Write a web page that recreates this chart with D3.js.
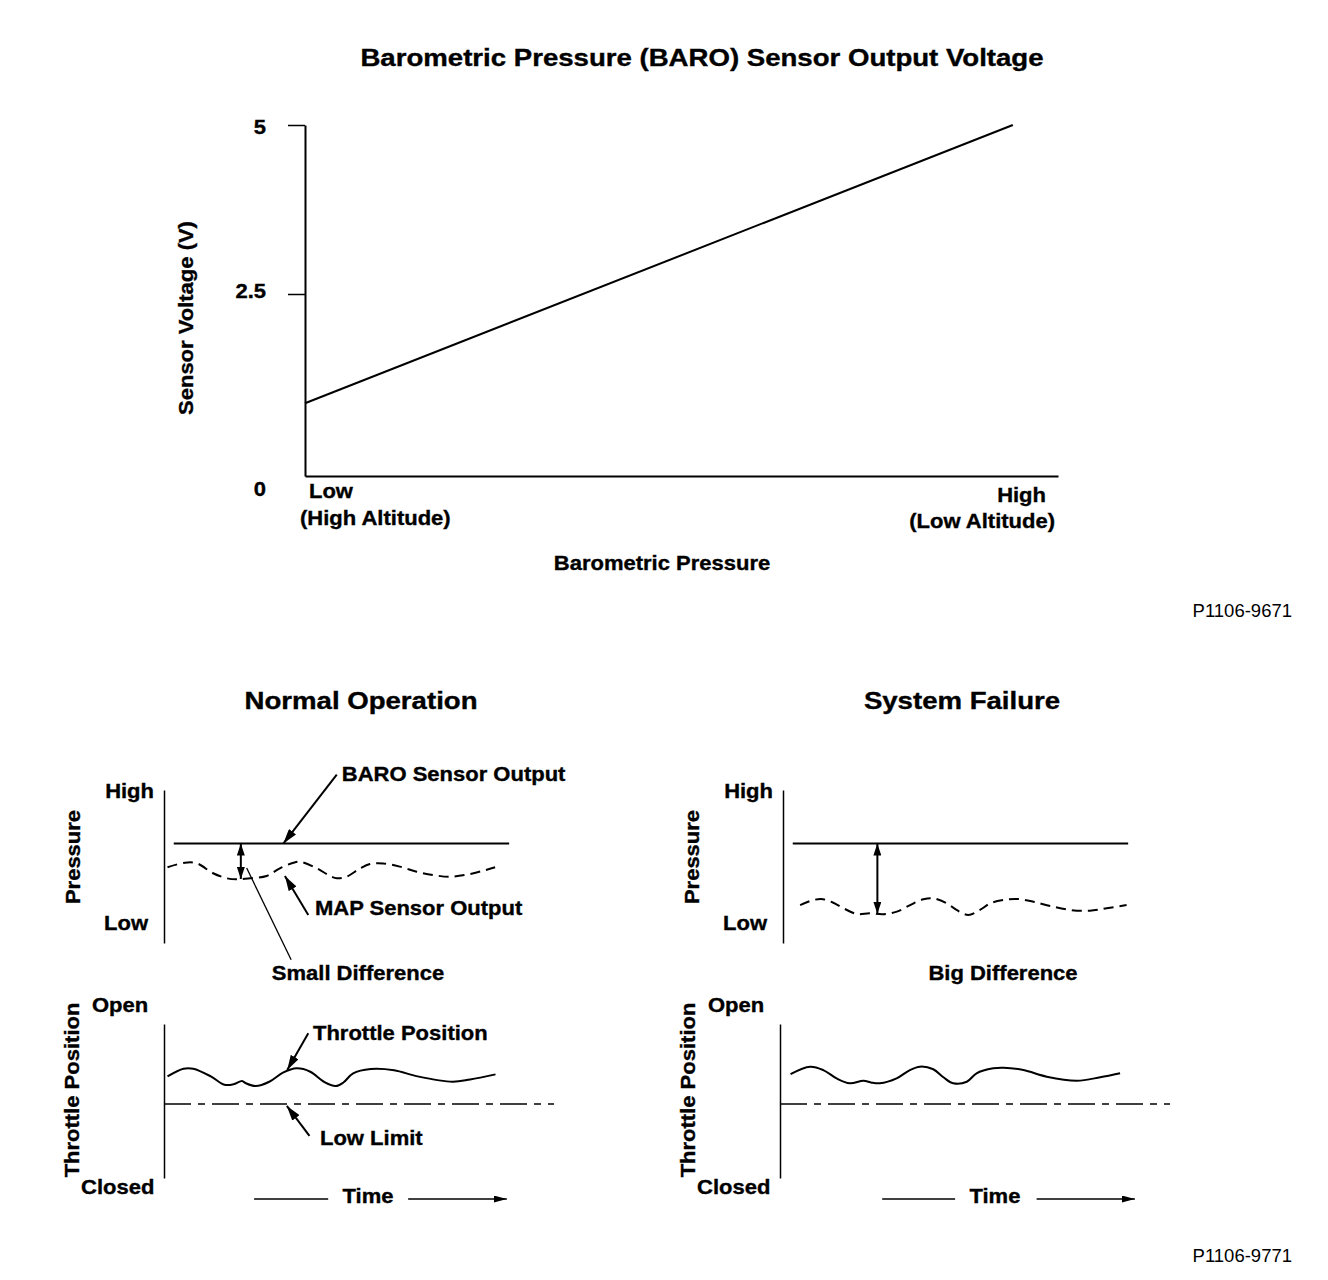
<!DOCTYPE html>
<html lang="en">
<head>
<meta charset="UTF-8">
<title>BARO Sensor Output Voltage</title>
<script src="https://cdn.jsdelivr.net/npm/d3@7/dist/d3.min.js"></script>
<style>
  body { margin: 0; background: #fff; }
  text { font-family: "Liberation Sans", Arial, Helvetica, sans-serif; fill: #000; }
</style>
</head>
<body>
<script>
// ---- top chart: sensor voltage vs barometric pressure ----
const pressureRange = [0, 100];            // low .. high pressure (relative)
const baroPressure = [0, 94];
const baroVoltage = [1.0, 5.0];
const voltTicks = [0, 2.5, 5];
const voltTickLabels = ['0', '2.5', '5'];

// ---- lower charts: [time, level], both 0..100 ----
const baroLevel = 65;
const baroSpan = [2.5, 88.5];
const lowLimit = 48;
const mapNormal = [[0.9, 49.5], [5.4, 52.5], [8.4, 52.1], [12.6, 45.6], [16.1, 42.3], [18.6, 41.6],
  [22.1, 42.3], [26.3, 43.8], [29.7, 48.8], [33.2, 52.5], [34.9, 53.1], [39.2, 48.8], [42.6, 43.8],
  [44.3, 42.3], [46.8, 43.3], [50.3, 48.8], [52.8, 51.6], [56.2, 52], [60.5, 49.9], [64.8, 46.6],
  [69.1, 44.4], [73.3, 43.3], [78.5, 45.1], [84.9, 49.5]];
const mapFailure = [[4.4, 24.8], [7.8, 28.1], [10.3, 28.6], [12.9, 26.3], [15.5, 22.7], [18.9, 19.0],
  [22.3, 19.4], [25.7, 18.8], [29.2, 20.5], [32.6, 24.8], [36.0, 28.6], [38.5, 29.2], [42.0, 25.9],
  [44.5, 21.6], [47.5, 18.3], [50.5, 21.6], [53.1, 25.9], [56.5, 28.1], [59.9, 28.8], [64.2, 27.0],
  [68.5, 24.2], [73.6, 21.6], [78.7, 21.1], [83.0, 22.7], [88.1, 24.8]];
const throttleNormal = [[0.9, 66], [5, 71], [7.5, 71], [12, 66], [15.5, 60.5], [18, 61], [20, 63],
  [21, 61.5], [23.5, 59.7], [27, 62.5], [30.5, 68.4], [34, 71.2], [37.5, 69], [41, 62.5], [44, 59.7],
  [46, 62], [48.5, 68], [53, 70.8], [59, 70], [65, 66], [74, 62.5], [78.5, 64], [85, 67.3]];
const throttleFailure = [[2.7, 67.5], [7.7, 72.3], [11.1, 70.1], [14.5, 64.7], [17.9, 61.5], [21.4, 63.2],
  [23.5, 61.9], [25.6, 61.5], [29.9, 64.7], [33.3, 70.1], [35.9, 72.3], [39.3, 70.6], [41.9, 65.4],
  [44.4, 61.5], [47.9, 62.5], [50.4, 68.0], [54.7, 71.2], [57.3, 71.6], [62.4, 70.1], [68.4, 65.8],
  [76.1, 63.2], [82.1, 65.4], [87.2, 68.0]];
const timeArrowNormal = [[23.1, 42.1], [62.6, 87.9], 52.3];
const timeArrowFailure = [[26.2, 44.9], [65.8, 91.0], 55.1];

const svg = d3.select('body').append('svg')
  .attr('width', 1328)
  .attr('height', 1280);

// arrow heads
const defs = svg.append('defs');
function marker(id, len, wid) {
  defs.append('marker')
    .attr('id', id)
    .attr('markerUnits', 'userSpaceOnUse')
    .attr('viewBox', `0 0 ${len} ${wid}`)
    .attr('markerWidth', len).attr('markerHeight', wid)
    .attr('refX', len).attr('refY', wid / 2)
    .attr('orient', 'auto-start-reverse')
    .append('path')
    .attr('d', `M0,0L${len},${wid / 2}L0,${wid}Z`)
    .attr('fill', '#000');
}
marker('head', 15, 9);
marker('dhead', 12, 8);
marker('thead', 13, 7);

// text: the drawing uses a wide bold face, so stretch a little sideways
function label(g, x, y, str, o = {}) {
  let tf = `translate(${x},${y})`;
  if (o.rotate) tf += ` rotate(${o.rotate})`;
  tf += ` scale(${o.sx || 1.1},1)`;
  const bold = (o.weight || 'bold') === 'bold';
  return g.append('text')
    .attr('transform', tf)
    .attr('text-anchor', o.anchor || 'start')
    .attr('font-size', o.size || 20)
    .attr('font-weight', o.weight || 'bold')
    .attr('stroke', bold ? '#000' : null)
    .attr('stroke-width', bold ? 0.35 : null)
    .text(str);
}

// ================= top chart =================
const x = d3.scaleLinear().domain(pressureRange).range([305, 1058]);
const y = d3.scaleLinear().domain(voltTicks).range([476, 294, 125]);

label(svg, 702, 65.5, 'Barometric Pressure (BARO) Sensor Output Voltage', { anchor: 'middle', size: 23, sx: 1.2 });

const yAxis = svg.append('g')
  .attr('transform', 'translate(305,0)')
  .call(d3.axisLeft(y)
    .tickValues(voltTicks)
    .tickFormat((d, i) => voltTickLabels[i])
    .tickSize(17)
    .tickSizeOuter(0)
    .tickPadding(22));
yAxis.select('.domain').attr('stroke-width', 2);
yAxis.selectAll('.tick line')
  .attr('stroke-width', 1.5)
  .attr('display', d => d === 0 ? 'none' : null);
yAxis.selectAll('.tick text').each(function (d) {
  const t = d3.select(this);
  const tx = +t.attr('x');
  t.attr('x', null).attr('dy', null)
    .attr('font-size', 20)
    .attr('font-weight', 'bold')
    .attr('stroke', '#000').attr('stroke-width', 0.35)
    .attr('transform', `translate(${tx},${d === 0 ? 19 : d === 5 ? 8 : 3}) scale(1.1,1)`);
});

svg.append('g')
  .attr('transform', 'translate(0,476)')
  .call(d3.axisBottom(x).tickValues([]).tickSizeOuter(0))
  .select('.domain').attr('stroke-width', 2);

svg.append('path')
  .datum(d3.zip(baroPressure, baroVoltage))
  .attr('fill', 'none')
  .attr('stroke', '#000')
  .attr('stroke-width', 2)
  .attr('d', d3.line().x(d => x(d[0])).y(d => y(d[1])));

label(svg, 193, 318, 'Sensor Voltage (V)', { anchor: 'middle', rotate: -90 });
label(svg, 309, 498, 'Low');
label(svg, 300, 525, '(High Altitude)');
label(svg, 1046, 502, 'High', { anchor: 'end' });
label(svg, 1055, 528, '(Low Altitude)', { anchor: 'end' });
label(svg, 662, 570, 'Barometric Pressure', { anchor: 'middle' });
label(svg, 1292, 617, 'P1106-9671', { anchor: 'end', weight: 'normal', size: 18.5, sx: 1 });

// ================= lower charts =================
const yP = d3.scaleLinear().domain([0, 100]).range([943, 790]);
const yT = d3.scaleLinear().domain([0, 100]).range([1178, 1024]);

const panels = [
  { title: 'Normal Operation', titleX: 361, x0: 164, x1: 164, map: mapNormal, throttle: throttleNormal,
    diffT: 19.7, diffLabel: 'Small Difference', diffX: 358, time: timeArrowNormal, notes: true },
  { title: 'System Failure', titleX: 962, x0: 783, x1: 780, map: mapFailure, throttle: throttleFailure,
    diffT: 24.2, diffLabel: 'Big Difference', diffX: 1003, time: timeArrowFailure, notes: false }
];

const curve = d3.line().curve(d3.curveCatmullRom.alpha(0.5));

panels.forEach(p => {
  const g = svg.append('g');
  const xP = d3.scaleLinear().domain([0, 100]).range([p.x0, p.x0 + 390]);
  const xT = d3.scaleLinear().domain([0, 100]).range([p.x1, p.x1 + 390]);

  label(g, p.titleX, 709, p.title, { anchor: 'middle', size: 23, sx: 1.2 });

  // pressure plot
  g.append('g').attr('transform', `translate(${p.x0},0)`)
    .call(d3.axisLeft(yP).tickValues([]).tickSizeOuter(0))
    .select('.domain').attr('stroke-width', 1.5);
  label(g, p.x0 - 10, 798, 'High', { anchor: 'end' });
  label(g, p.x0 - 16, 930, 'Low', { anchor: 'end' });
  label(g, p.x0 - 84, 857, 'Pressure', { anchor: 'middle', rotate: -90 });

  g.append('path')
    .attr('fill', 'none').attr('stroke', '#000').attr('stroke-width', 2)
    .attr('d', d3.line()(baroSpan.map(t => [xP(t), yP(baroLevel)])));
  g.append('path')
    .attr('fill', 'none').attr('stroke', '#000').attr('stroke-width', 2)
    .attr('stroke-dasharray', '10,6')
    .attr('d', curve.x(d => xP(d[0])).y(d => yP(d[1]))(p.map));

  const mapAt = d3.scaleLinear().domain(p.map.map(d => d[0])).range(p.map.map(d => d[1]));
  g.append('line')
    .attr('x1', xP(p.diffT)).attr('x2', xP(p.diffT))
    .attr('y1', yP(baroLevel)).attr('y2', yP(mapAt(p.diffT)))
    .attr('stroke', '#000').attr('stroke-width', 2)
    .attr('marker-start', 'url(#dhead)')
    .attr('marker-end', 'url(#dhead)');

  // throttle plot
  g.append('g').attr('transform', `translate(${p.x1},0)`)
    .call(d3.axisLeft(yT).tickValues([]).tickSizeOuter(0))
    .select('.domain').attr('stroke-width', 1.5);
  label(g, p.x1 - 72, 1012, 'Open');
  label(g, p.x1 - 83, 1194, 'Closed');
  label(g, p.x1 - 85, 1090, 'Throttle Position', { anchor: 'middle', rotate: -90 });

  g.append('path')
    .attr('fill', 'none').attr('stroke', '#000').attr('stroke-width', 2)
    .attr('d', curve.x(d => xT(d[0])).y(d => yT(d[1]))(p.throttle));
  g.append('path')
    .attr('fill', 'none').attr('stroke', '#000').attr('stroke-width', 1.5)
    .attr('stroke-dasharray', '27,7,7,7')
    .attr('d', d3.line()([[xT(0), yT(lowLimit)], [xT(100), yT(lowLimit)]]));

  // time arrow
  const ty = 1199;
  g.append('line')
    .attr('x1', xT(p.time[0][0])).attr('x2', xT(p.time[0][1]))
    .attr('y1', ty).attr('y2', ty)
    .attr('stroke', '#000').attr('stroke-width', 1.5);
  g.append('line')
    .attr('x1', xT(p.time[1][0])).attr('x2', xT(p.time[1][1]))
    .attr('y1', ty).attr('y2', ty)
    .attr('stroke', '#000').attr('stroke-width', 1.5)
    .attr('marker-end', 'url(#thead)');
  label(g, xT(p.time[2]), 1203, 'Time', { anchor: 'middle' });

  label(g, p.diffX, 980, p.diffLabel, { anchor: 'middle' });

  if (p.notes) {
    const lead = (from, to, sc, sy, head = true, w = 2) => {
      const l = g.append('line')
        .attr('x1', sc(from[0])).attr('y1', sy(from[1]))
        .attr('x2', sc(to[0])).attr('y2', sy(to[1]))
        .attr('stroke', '#000').attr('stroke-width', w);
      if (head) l.attr('marker-end', 'url(#head)');
    };
    lead([44.3, 110], [30.6, baroLevel], xP, yP);
    label(g, xP(45.6), 781, 'BARO Sensor Output');
    lead([37.0, 18.3], [31.0, 43.8], xP, yP);
    label(g, xP(38.7), 915, 'MAP Sensor Output');
    lead([21.2, 49], [32.6, -11], xP, yP, false, 1.3);
    lead([37.0, 94], [31.6, 70.1], xT, yT);
    label(g, xT(38.2), 1040, 'Throttle Position');
    lead([37.3, 27.3], [31.5, 46.8], xT, yT);
    label(g, xT(40), 1145, 'Low Limit');
  }
});

label(svg, 1292, 1262, 'P1106-9771', { anchor: 'end', weight: 'normal', size: 18.5, sx: 1 });
</script>
</body>
</html>
